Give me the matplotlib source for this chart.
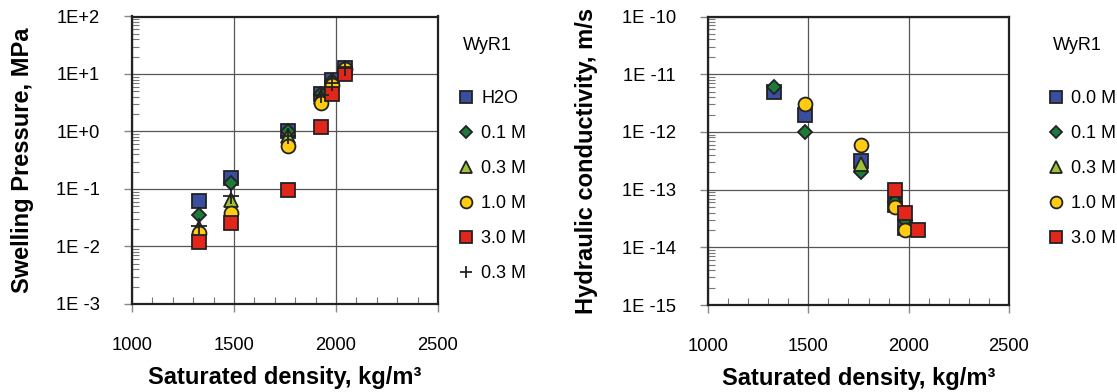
import matplotlib
matplotlib.use("Agg")
import matplotlib.pyplot as plt
import matplotlib.ticker as plticker
from matplotlib.lines import Line2D

plt.rcParams['font.family'] = ['Liberation Sans', 'DejaVu Sans']

# swelling pressure (MPa) vs saturated density
sp_density = [1330, 1483, 1763, 1927, 1979, 2044]
sp_h2o = [0.061, 0.155, 1.0, 4.5, 7.9, 12.6]
sp_01 = [0.035, 0.127, 1.0, 4.5, 7.5, 12.0]
sp_03 = [0.021, 0.065, 0.82, 4.0, 7.0, 12.0]
sp_10 = [0.017, 0.038, 0.55, 3.1, 6.5, 12.0]
sp_30 = [0.012, 0.026, 0.098, 1.2, 4.5, 10.0]
sp_03b = [0.023, 0.077, 0.85, 4.3, 7.0, 12.6]

# hydraulic conductivity (m/s) vs saturated density
hk_h2o_x = [1330, 1483, 1763, 1930, 1980]
hk_h2o = [5e-12, 2e-12, 3.1e-13, 5.4e-14, 2.2e-14]
hk_01_x = [1330, 1483, 1763, 1930, 1980]
hk_01 = [6e-12, 1e-12, 2e-13, 6e-14, 3e-14]
hk_03_x = [1763]
hk_03 = [2.8e-13]
hk_10_x = [1483, 1763, 1930, 1980]
hk_10 = [3.1e-12, 6e-13, 5e-14, 2e-14]
hk_30_x = [1930, 1980, 2045]
hk_30 = [1e-13, 4e-14, 2e-14]

left_ticks = [1e-3, 1e-2, 1e-1, 1e0, 1e1, 1e2]
left_ticklabels = ['1E -3', '1E -2', '1E -1', '1E+0', '1E+1', '1E+2']
right_ticks = [1e-15, 1e-14, 1e-13, 1e-12, 1e-11, 1e-10]
right_ticklabels = ['1E -15', '1E -14', '1E -13', '1E -12', '1E -11', '1E -10']

blue = '#3a4ea0'
green = '#1d7a38'
lime = '#9cc23a'
yellow = '#ffcc11'
red = '#e2261c'
edge = '#222222'

sty = dict(linestyle='none', markeredgecolor=edge, markeredgewidth=1.3)
series_style = {
    'sq_blue': dict(marker='s', markersize=10, markerfacecolor=blue, **sty),
    'dia': dict(marker='D', markersize=7.5, markerfacecolor=green, **sty),
    'tri': dict(marker='^', markersize=10, markerfacecolor=lime, **sty),
    'circ': dict(marker='o', markersize=10, markerfacecolor=yellow, **sty),
    'sq_red': dict(marker='s', markersize=10, markerfacecolor=red, **sty),
    'plus': dict(marker='+', markersize=11, color='#222222', markeredgewidth=1.3, linestyle='none'),
}

fig = plt.figure(figsize=(11.17, 3.92), dpi=100)
ax1 = fig.add_axes([132 / 1117, 1 - 304 / 392, 306 / 1117, 287.5 / 392])
ax2 = fig.add_axes([708 / 1117, 1 - 305 / 392, 301 / 1117, 288.5 / 392])


def style_axes(ax, ylo, yhi, ticks, labels, ylabel, ylab_x):
    ax.set_yscale('log')
    ax.set_xlim(1000, 2500)
    ax.set_ylim(ylo, yhi)
    ax.xaxis.set_major_locator(plticker.MultipleLocator(500))
    ax.xaxis.set_minor_locator(plticker.MultipleLocator(100))
    ax.yaxis.set_minor_locator(plticker.LogLocator(base=10, subs=range(2, 10), numticks=20))
    ax.yaxis.set_ticks(ticks)
    ax.yaxis.set_major_formatter(plticker.FixedFormatter(labels))
    ax.yaxis.set_minor_formatter(plticker.NullFormatter())
    ax.grid(True, which='major', color='#555555', linewidth=0.9)
    ax.set_axisbelow(True)
    for s in ax.spines.values():
        s.set_linewidth(1.6)
        s.set_color('#222222')
    ax.tick_params(which='major', direction='out', length=6, width=1, color='#888888',
                   labelsize=13.2, pad=17)
    ax.tick_params(axis='x', which='major', pad=18)
    ax.tick_params(which='minor', direction='in', length=5, width=0.8, color='#777777')
    ax.set_xlabel('Saturated density, kg/m³', fontsize=17, fontweight='bold')
    ax.set_ylabel(ylabel, fontsize=17, fontweight='bold')
    ax.xaxis.label.set_va('center')
    ax.yaxis.label.set_va('center')
    ax.xaxis.set_label_coords(0.5, -0.254)
    ax.yaxis.set_label_coords(ylab_x, 0.5)


style_axes(ax1, 1e-3, 1e2, left_ticks, left_ticklabels, 'Swelling Pressure, MPa', (22 - 132) / 306)
style_axes(ax2, 1e-15, 1e-10, right_ticks, right_ticklabels, 'Hydraulic conductivity, m/s', (587 - 708) / 301)

ax1.plot(sp_density, sp_h2o, label='H2O', **series_style['sq_blue'])
ax1.plot(sp_density, sp_01, label='0.1 M', **series_style['dia'])
ax1.plot(sp_density, sp_03, label='0.3 M', **series_style['tri'])
ax1.plot(sp_density, sp_10, label='1.0 M', **series_style['circ'])
ax1.plot(sp_density, sp_30, label='3.0 M', **series_style['sq_red'])
ax1.plot(sp_density, sp_03b, label='0.3 M', **series_style['plus'])

ax2.plot(hk_h2o_x, hk_h2o, label='0.0 M', **series_style['sq_blue'])
ax2.plot(hk_01_x, hk_01, label='0.1 M', **series_style['dia'])
ax2.plot(hk_03_x, hk_03, label='0.3 M', **series_style['tri'])
ax2.plot(hk_10_x, hk_10, label='1.0 M', **series_style['circ'])
ax2.plot(hk_30_x, hk_30, label='3.0 M', **series_style['sq_red'])


def legend_for(ax, x_px, title_px):
    handles, labels = ax.get_legend_handles_labels()
    small = []
    for h in handles:
        h2 = Line2D([], [])
        h2.update_from(h)
        h2.set_markersize(h.get_markersize() * 0.85)
        small.append(h2)
    fig.text(title_px / 1117, 1 - 45 / 392, 'WyR1', fontsize=13, va='center', ha='left')
    fig.legend(small, labels, loc='upper left', bbox_to_anchor=(x_px / 1117, 1 - 90 / 392),
               frameon=False, fontsize=13, labelspacing=1.0, handlelength=1.0,
               handletextpad=0.35, borderaxespad=0, borderpad=0)


legend_for(ax1, 457, 463)
legend_for(ax2, 1047, 1053)

fig.savefig('out.png', dpi=100)
